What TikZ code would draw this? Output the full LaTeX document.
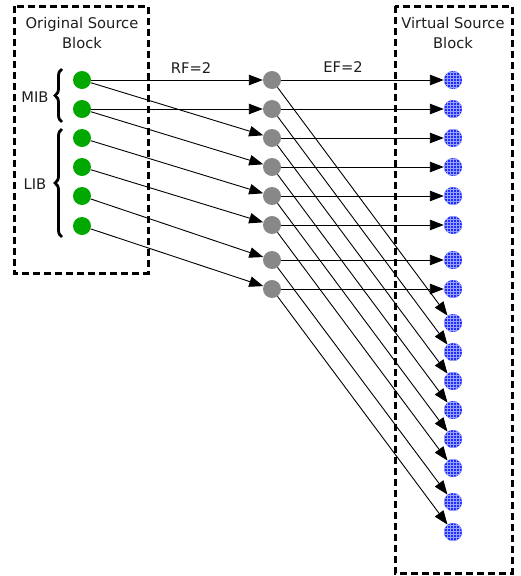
\documentclass[tikz,border=0pt]{standalone}
\usepackage{fontspec}
\setmainfont{DejaVu Sans}
\usetikzlibrary{arrows.meta,patterns,decorations.pathreplacing}
\definecolor{ngreen}{RGB}{0,168,0}
\definecolor{ngray}{RGB}{136,136,136}
\definecolor{nblue}{RGB}{30,45,250}
\definecolor{txt}{RGB}{30,30,30}
\tikzset{
  srcnode/.style={circle,fill=ngreen,inner sep=0pt,minimum size=18pt},
  midnode/.style={circle,fill=ngray,inner sep=0pt,minimum size=18pt},
  vnode/.style={circle,inner sep=0pt,minimum size=18pt,preaction={fill=nblue},pattern=grid,pattern color=white!55!nblue},
  conn/.style={line width=0.9pt,-{Triangle[length=14pt,width=10.5pt]}},
  blockbox/.style={line width=3pt,dash pattern=on 7pt off 4pt},
  lbl/.style={font=\fontsize{14.7}{20}\selectfont,text=txt,align=center,inner sep=0pt},
  bracestyle/.style={line width=2.8pt,decorate,decoration={brace,amplitude=7pt}}
}
\begin{document}
\begin{tikzpicture}[x=1pt,y=-1pt]
\useasboundingbox (0,0) rectangle (520,576);
% boxes
\draw[blockbox] (14,6) rectangle (148,273);
\draw[blockbox] (395,6) rectangle (512,573);
\node[lbl] (t1) at (82,33) {Original Source\\Block};
\node[lbl] (t2) at (453,33) {Virtual Source\\Block};
\node[lbl] (rf) at (191,68) {RF=2};
\node[lbl] (ef) at (343,67) {EF=2};
% source nodes
\foreach \i/\y in {1/80,2/109,3/138,4/167,5/196,6/226}
  \node[srcnode] (g\i) at (82,\y) {};
% middle nodes
\foreach \i/\y in {1/80,2/109,3/138,4/167,5/196,6/225,7/260,8/289}
  \node[midnode] (m\i) at (272,\y) {};
% virtual nodes
\foreach \i/\y in {1/80,2/109,3/138,4/167,5/196,6/225,7/260,8/289,9/323,10/352,11/381,12/410,13/439,14/468,15/502,16/532}
  \node[vnode] (b\i) at (453,\y) {};
% braces
\coordinate (mibt) at (62,69);
\coordinate (mibb) at (62,122);
\coordinate (libt) at (62,129);
\coordinate (libb) at (62,237);
\draw[bracestyle] (mibb) -- (mibt);
\draw[bracestyle] (libb) -- (libt);
\node[lbl] (mib) at (35,97) {MIB};
\node[lbl] (lib) at (35,184) {LIB};
% source to middle
\draw[conn] (g1) -- (m1);
\draw[conn] (g2) -- (m2);
\foreach \i [evaluate=\i as \j using int(\i+2)] in {1,...,6}
  \draw[conn] (g\i) -- (m\j);
% middle to virtual
\foreach \i [evaluate=\i as \j using int(\i+8)] in {1,...,8}{
  \draw[conn] (m\i) -- (b\i);
  \draw[conn] (m\i) -- (b\j);
}
\end{tikzpicture}
\end{document}
